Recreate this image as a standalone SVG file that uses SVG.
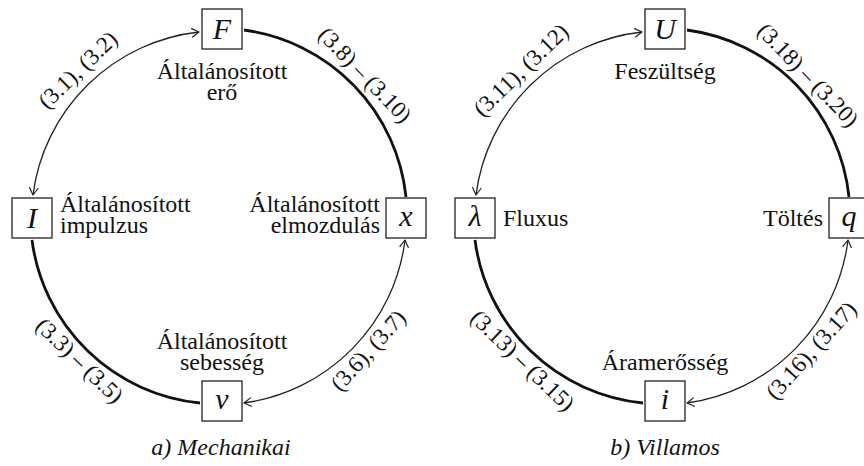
<svg xmlns="http://www.w3.org/2000/svg" width="864" height="466" viewBox="0 0 864 466">
<g id="connectors">
<g fill="none" stroke="#222" stroke-width="1.3">
<path d="M33,195 A188,188 0 0 1 199,32"/>
<path d="M244,403 A188,188 0 0 0 405,240"/>
<path d="M476,195 A188,188 0 0 1 642,32"/>
<path d="M687,403 A188,188 0 0 0 848,240"/>
</g>
<g fill="none" stroke="#222" stroke-width="1.2" stroke-linejoin="round" stroke-linecap="round">
<path d="M29.6,187.6 L33,195 L38,188.5"/>
<path d="M191.6,28.6 L199,32 L192.5,37"/>
<path d="M250.4,397.9 L244,403 L251.5,406.3"/>
<path d="M399.9,246.4 L405,240 L408.3,247.5"/>
<path d="M472.6,187.6 L476,195 L481,188.5"/>
<path d="M634.6,28.6 L642,32 L635.5,37"/>
<path d="M693.4,397.9 L687,403 L694.5,406.3"/>
<path d="M842.9,246.4 L848,240 L851.3,247.5"/>
</g>
<g fill="none" stroke="#111" stroke-width="2.8">
<path d="M244,30 A188,188 0 0 1 406,197"/>
<path d="M32,240 A188,188 0 0 0 200,403"/>
<path d="M687,30 A188,188 0 0 1 849,197"/>
<path d="M475,240 A188,188 0 0 0 643,403"/>
</g>
<text font-family="Liberation Serif" font-size="23" fill="#111" text-anchor="middle" x="83.2" y="75.4" transform="rotate(-44 83.2 75.4)">(3.1), (3.2)</text>
<text font-family="Liberation Serif" font-size="23" fill="#111" text-anchor="middle" x="359.6" y="80.2" transform="rotate(46 359.6 80.2)">(3.8) – (3.10)</text>
<text font-family="Liberation Serif" font-size="23" fill="#111" text-anchor="middle" x="74.2" y="366" transform="rotate(44 74.2 366)">(3.3) – (3.5)</text>
<text font-family="Liberation Serif" font-size="23" fill="#111" text-anchor="middle" x="373.9" y="355.5" transform="rotate(-48 373.9 355.5)">(3.6), (3.7)</text>
<text font-family="Liberation Serif" font-size="23" fill="#111" text-anchor="middle" x="526.2" y="75.4" transform="rotate(-44 526.2 75.4)">(3.11), (3.12)</text>
<text font-family="Liberation Serif" font-size="23" fill="#111" text-anchor="middle" x="802.6" y="80.2" transform="rotate(46 802.6 80.2)">(3.18) – (3.20)</text>
<text font-family="Liberation Serif" font-size="23" fill="#111" text-anchor="middle" x="517.2" y="366" transform="rotate(44 517.2 366)">(3.13) – (3.15)</text>
<text font-family="Liberation Serif" font-size="23" fill="#111" text-anchor="middle" x="816.9" y="355.5" transform="rotate(-48 816.9 355.5)">(3.16), (3.17)</text>
</g>

<g id="node-F">
<rect x="202" y="9" width="40" height="40" fill="#fff" stroke="#222" stroke-width="1.3"/>
<text font-family="Liberation Serif" font-style="italic" font-size="30" fill="#111" text-anchor="middle" x="222" y="39">F</text>
<text font-family="Liberation Serif" font-size="24" fill="#111" text-anchor="middle" x="222" y="79">Általánosított</text>
<text font-family="Liberation Serif" font-size="24" fill="#111" text-anchor="middle" x="222" y="100">erő</text>
</g>
<g id="node-I">
<rect x="12" y="198" width="40" height="40" fill="#fff" stroke="#222" stroke-width="1.3"/>
<text font-family="Liberation Serif" font-style="italic" font-size="30" fill="#111" text-anchor="middle" x="32" y="228">I</text>
<text font-family="Liberation Serif" font-size="24" fill="#111" x="60" y="212">Általánosított</text>
<text font-family="Liberation Serif" font-size="24" fill="#111" x="60" y="233">impulzus</text>
</g>
<g id="node-x">
<rect x="386" y="198" width="40" height="40" fill="#fff" stroke="#222" stroke-width="1.3"/>
<text font-family="Liberation Serif" font-style="italic" font-size="30" fill="#111" text-anchor="middle" x="406" y="226">x</text>
<text font-family="Liberation Serif" font-size="24" fill="#111" text-anchor="end" x="380" y="212">Általánosított</text>
<text font-family="Liberation Serif" font-size="24" fill="#111" text-anchor="end" x="380" y="233">elmozdulás</text>
</g>
<g id="node-v">
<rect x="202" y="381" width="40" height="40" fill="#fff" stroke="#222" stroke-width="1.3"/>
<text font-family="Liberation Serif" font-style="italic" font-size="30" fill="#111" text-anchor="middle" x="222" y="409">v</text>
<text font-family="Liberation Serif" font-size="24" fill="#111" text-anchor="middle" x="222" y="349">Általánosított</text>
<text font-family="Liberation Serif" font-size="24" fill="#111" text-anchor="middle" x="222" y="370">sebesség</text>
</g>
<text font-family="Liberation Serif" font-style="italic" font-size="24" fill="#111" text-anchor="middle" x="221" y="455">a) Mechanikai</text>

<g id="node-U">
<rect x="645" y="9" width="40" height="40" fill="#fff" stroke="#222" stroke-width="1.3"/>
<text font-family="Liberation Serif" font-style="italic" font-size="30" fill="#111" text-anchor="middle" x="665" y="39">U</text>
<text font-family="Liberation Serif" font-size="24" fill="#111" text-anchor="middle" x="665" y="79">Feszültség</text>
</g>
<g id="node-lambda">
<rect x="455" y="198" width="40" height="40" fill="#fff" stroke="#222" stroke-width="1.3"/>
<text font-family="Liberation Serif" font-style="italic" font-size="30" fill="#111" text-anchor="middle" x="475" y="226">λ</text>
<text font-family="Liberation Serif" font-size="24" fill="#111" x="503" y="226">Fluxus</text>
</g>
<g id="node-q">
<rect x="829" y="198" width="40" height="40" fill="#fff" stroke="#222" stroke-width="1.3"/>
<text font-family="Liberation Serif" font-style="italic" font-size="30" fill="#111" text-anchor="middle" x="849" y="226">q</text>
<text font-family="Liberation Serif" font-size="24" fill="#111" text-anchor="end" x="823" y="226">Töltés</text>
</g>
<g id="node-i">
<rect x="645" y="381" width="40" height="40" fill="#fff" stroke="#222" stroke-width="1.3"/>
<text font-family="Liberation Serif" font-style="italic" font-size="30" fill="#111" text-anchor="middle" x="665" y="409">i</text>
<text font-family="Liberation Serif" font-size="24" fill="#111" text-anchor="middle" x="665" y="370">Áramerősség</text>
</g>
<text font-family="Liberation Serif" font-style="italic" font-size="24" fill="#111" text-anchor="middle" x="665" y="455">b) Villamos</text>
</svg>
